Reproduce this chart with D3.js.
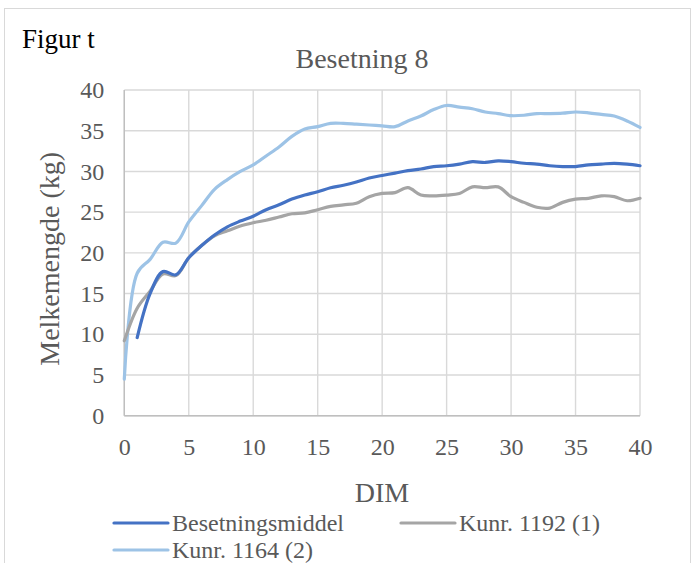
<!DOCTYPE html>
<html>
<head>
  <script src="https://cdn.jsdelivr.net/npm/d3@7"></script>
  <style>
    body { margin: 0; background: #fff; }
    text { font-family: "Liberation Serif", "Times New Roman", serif; }
  </style>
</head>
<body>
  <div id="chart"></div>
  <script>
    const dim = d3.range(0, 41);

    // Besetningsmiddel (starts at DIM 1)
    const middel = [null, 9.6, 15.0, 17.7, 17.3, 19.4, 20.9, 22.2, 23.2, 23.9,
      24.5, 25.3, 25.9, 26.6, 27.1, 27.5, 28.0, 28.3, 28.7, 29.2,
      29.5, 29.8, 30.1, 30.3, 30.6, 30.7, 30.9, 31.2, 31.1, 31.3,
      31.2, 31.0, 30.9, 30.7, 30.6, 30.6, 30.8, 30.9, 31.0, 30.9, 30.7];

    // Kunr. 1192 (1)
    const ku1192 = [9.2, 13.2, 15.3, 17.4, 17.2, 19.4, 20.9, 22.1, 22.7, 23.3,
      23.7, 24.0, 24.4, 24.8, 24.9, 25.3, 25.7, 25.9, 26.1, 26.9,
      27.3, 27.4, 28.0, 27.1, 27.0, 27.1, 27.3, 28.1, 28.0, 28.1,
      26.9, 26.2, 25.6, 25.5, 26.2, 26.6, 26.7, 27.0, 26.9, 26.4, 26.7];

    // Kunr. 1164 (2)
    const ku1164 = [4.5, 17.5, 19.2, 21.3, 21.2, 23.8, 25.8, 27.8, 29.0, 30.0,
      30.8, 31.9, 33.0, 34.3, 35.2, 35.5, 35.9, 35.9, 35.8, 35.7,
      35.6, 35.5, 36.2, 36.8, 37.6, 38.1, 37.9, 37.7, 37.3, 37.1,
      36.85, 36.9, 37.1, 37.1, 37.15, 37.3, 37.2, 37.0, 36.8, 36.2, 35.4];

    const xTicks = [0, 5, 10, 15, 20, 25, 30, 35, 40];
    const yTicks = [0, 5, 10, 15, 20, 25, 30, 35, 40];

    const series = [
      { name: "Besetningsmiddel", values: middel, color: "#4472C4" },
      { name: "Kunr. 1192 (1)", values: ku1192, color: "#A5A5A5" },
      { name: "Kunr. 1164 (2)", values: ku1164, color: "#9DC3E6" }
    ];

    const width = 699, height = 563;
    const plot = { left: 124.3, right: 640, top: 90, bottom: 415.7 };

    const svg = d3.select("#chart").append("svg")
      .attr("width", width)
      .attr("height", height);

    // chart frame
    svg.append("rect")
      .attr("x", 4.5).attr("y", 8.5)
      .attr("width", 686).attr("height", 570)
      .attr("fill", "#fff")
      .attr("stroke", "#d9d9d9")
      .attr("stroke-width", 1);

    const x = d3.scaleLinear().domain([0, 40]).range([plot.left, plot.right]);
    const y = d3.scaleLinear().domain([0, 40]).range([plot.bottom, plot.top]);

    // gridlines
    svg.append("g")
      .selectAll("line.h")
      .data(yTicks)
      .enter().append("line")
      .attr("x1", plot.left).attr("x2", plot.right)
      .attr("y1", d => y(d)).attr("y2", d => y(d))
      .attr("stroke", "#d9d9d9").attr("stroke-width", 1.4);

    svg.append("g")
      .selectAll("line.v")
      .data(xTicks)
      .enter().append("line")
      .attr("y1", plot.top).attr("y2", plot.bottom)
      .attr("x1", d => x(d)).attr("x2", d => x(d))
      .attr("stroke", "#d9d9d9").attr("stroke-width", 1.4);

    // axis lines
    svg.append("line")
      .attr("x1", plot.left).attr("x2", plot.right)
      .attr("y1", plot.bottom).attr("y2", plot.bottom)
      .attr("stroke", "#bfbfbf").attr("stroke-width", 1.4);
    svg.append("line")
      .attr("x1", plot.left).attr("x2", plot.left)
      .attr("y1", plot.top).attr("y2", plot.bottom)
      .attr("stroke", "#bfbfbf").attr("stroke-width", 1.4);

    // tick labels
    const yAxis = d3.axisLeft(y).tickValues(yTicks).tickSize(0).tickPadding(20);
    const gy = svg.append("g").attr("transform", `translate(${plot.left},0)`).call(yAxis);
    gy.select(".domain").remove();
    gy.selectAll("text")
      .attr("font-size", 24).attr("fill", "#595959");

    const xAxis = d3.axisBottom(x).tickValues(xTicks).tickSize(0).tickPadding(22);
    const gx = svg.append("g").attr("transform", `translate(0,${plot.bottom})`).call(xAxis);
    gx.select(".domain").remove();
    gx.selectAll("text")
      .attr("font-size", 24).attr("fill", "#595959");

    // lines
    const line = d3.line()
      .defined(d => d.v != null)
      .x(d => x(d.x))
      .y(d => y(d.v))
      .curve(d3.curveCatmullRom.alpha(0.5));

    series.slice().reverse().forEach(s => {
      svg.append("path")
        .datum(dim.map((d, i) => ({ x: d, v: s.values[i] })))
        .attr("fill", "none")
        .attr("stroke", s.color)
        .attr("stroke-width", 3.2)
        .attr("stroke-linejoin", "round")
        .attr("stroke-linecap", "round")
        .attr("d", line);
    });

    // titles
    svg.append("text")
      .attr("x", 22).attr("y", 48)
      .attr("font-size", 27).attr("fill", "#000")
      .text("Figur t");

    svg.append("text")
      .attr("x", 362).attr("y", 68)
      .attr("text-anchor", "middle")
      .attr("font-size", 28).attr("fill", "#595959")
      .text("Besetning 8");

    svg.append("text")
      .attr("x", 382).attr("y", 502)
      .attr("text-anchor", "middle")
      .attr("font-size", 28).attr("fill", "#595959")
      .text("DIM");

    svg.append("text")
      .attr("transform", `translate(59,${(plot.top + plot.bottom) / 2 + 6}) rotate(-90)`)
      .attr("text-anchor", "middle")
      .attr("font-size", 28).attr("fill", "#595959")
      .text("Melkemengde (kg)");

    // legend
    const legendPos = [
      { lx: 114, ly: 523 },
      { lx: 401, ly: 523 },
      { lx: 114, ly: 550 }
    ];
    series.forEach((s, i) => {
      const p = legendPos[i];
      svg.append("line")
        .attr("x1", p.lx).attr("x2", p.lx + 54)
        .attr("y1", p.ly).attr("y2", p.ly)
        .attr("stroke", s.color).attr("stroke-width", 3.2)
        .attr("stroke-linecap", "round");
      svg.append("text")
        .attr("x", p.lx + 58).attr("y", p.ly + 8)
        .attr("font-size", 24).attr("fill", "#595959")
        .text(s.name);
    });
  </script>
</body>
</html>
